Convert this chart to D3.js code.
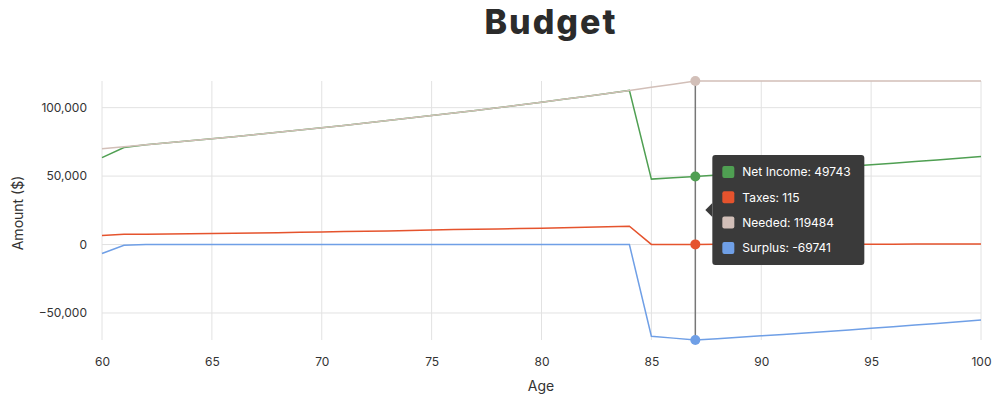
<!DOCTYPE html>
<html><head><meta charset="utf-8">
<script src="https://cdn.jsdelivr.net/npm/d3@7"></script>
<style>
html,body{margin:0;padding:0;background:#fff;}
svg{display:block;font-family:Inter,"Noto Sans",sans-serif;}
</style></head>
<body><svg id="c" width="998" height="397"></svg>
<script>
const ages = d3.range(60, 101);
const netIncome = [63500,70900,72828,74285,75770,77286,78831,80408,82016,83656,85330,87036,88777,90552,92364,94211,96095,98017,99977,101977,104016,106097,108219,110383,112591,47812,48768,49743,50738,51753,52788,53843,54920,56019,57139,58282,59448,60637,61849,63086,64348];
const taxes = [6600,7500,7600,7700,7900,8050,8250,8450,8700,8950,9200,9450,9700,9950,10300,10650,10900,11150,11400,11650,11900,12250,12600,12950,13350,90,100,115,130,145,160,175,190,205,220,240,260,400,420,440,460];
const needed = [70000,71400,72828,74285,75770,77286,78831,80408,82016,83656,85330,87036,88777,90552,92364,94211,96095,98017,99977,101977,104016,106097,108219,110383,112591,114842,117139,119484,119484,119484,119484,119484,119484,119484,119484,119484,119484,119484,119484,119484,119484];
const surplus = [-6500,-500,0,0,0,0,0,0,0,0,0,0,0,0,0,0,0,0,0,0,0,0,0,0,0,-67030,-68371,-69741,-68746,-67731,-66696,-65641,-64564,-63465,-62345,-61202,-60036,-58847,-57635,-56398,-55136];
const seriesNames = ["Net Income","Taxes","Needed","Surplus"];
const seriesColors = ["#4f9f52","#e5532d","#d2bfb8","#6f9fe6"];
const xTicks = [60,65,70,75,80,85,90,95,100];
const yTicks = [-50000,0,50000,100000];
const hoverAge = 87;

const series = [netIncome, taxes, needed, surplus].map((v,i)=>({name:seriesNames[i], color:seriesColors[i], values:v}));
const svg = d3.select("#c");
const x = d3.scaleLinear().domain([60,100]).range([102,981]);
const allVals = [].concat(netIncome,taxes,needed,surplus);
const y = d3.scaleLinear().domain([d3.min(allVals), d3.max(allVals)]).range([340,81]);

// grid
svg.append("g").selectAll("line").data(xTicks).join("line")
  .attr("x1",d=>x(d)).attr("x2",d=>x(d)).attr("y1",y.range()[1]).attr("y2",y.range()[0])
  .attr("stroke","#e2e2e2").attr("stroke-width",1);
svg.append("g").selectAll("line").data(yTicks).join("line")
  .attr("x1",x.range()[0]).attr("x2",x.range()[1]).attr("y1",d=>y(d)).attr("y2",d=>y(d))
  .attr("stroke","#e2e2e2").attr("stroke-width",1);

// axes (text only)
const xAxis = svg.append("g").attr("transform","translate(0,354)")
  .call(d3.axisBottom(x).tickValues(xTicks).tickSize(0).tickFormat(d3.format("d")));
const yAxis = svg.append("g").attr("transform","translate(90,0)")
  .call(d3.axisLeft(y).tickValues(yTicks).tickSize(0).tickFormat(d3.format(",")));
[xAxis,yAxis].forEach(a=>{a.select(".domain").remove();
  a.selectAll("text").attr("font-family","Inter, sans-serif").attr("font-size",12).attr("fill","#333");});

// lines
const line = d3.line().x((d,i)=>x(ages[i])).y(d=>y(d));
svg.append("g").selectAll("path").data(series).join("path")
  .attr("d",d=>line(d.values)).attr("fill","none").attr("stroke",d=>d.color).attr("stroke-width",1.5);

// crosshair
const hi = ages.indexOf(hoverAge);
svg.append("line").attr("x1",x(hoverAge)).attr("x2",x(hoverAge)).attr("y1",y.range()[1]).attr("y2",y.range()[0])
  .attr("stroke","#777").attr("stroke-width",1.5);
svg.append("g").selectAll("circle").data(series).join("circle")
  .attr("cx",x(hoverAge)).attr("cy",d=>y(d.values[hi])).attr("r",5).attr("fill",d=>d.color);

// titles
svg.append("text").attr("x",551).attr("y",34).attr("text-anchor","middle")
  .attr("font-family","Inter, sans-serif").attr("font-weight",800).attr("font-size",34).attr("letter-spacing",2).attr("fill","#2b2b2b").text("Budget");
svg.append("text").attr("x",541).attr("y",391).attr("text-anchor","middle")
  .attr("font-family","Inter, sans-serif").attr("font-size",14).attr("fill","#333").text("Age");
svg.append("text").attr("transform","translate(23,213) rotate(-90)").attr("text-anchor","middle")
  .attr("font-family","Inter, sans-serif").attr("font-size",14).attr("fill","#333").text("Amount ($)");

// tooltip
const tx = x(hoverAge)+17, ty = 155, tw = 152, th = 110;
const tip = svg.append("g");
tip.append("rect").attr("x",tx).attr("y",ty).attr("width",tw).attr("height",th).attr("rx",3).attr("fill","#3a3a3a");
tip.append("path").attr("d",`M${tx},${ty+th/2-7} L${tx-7},${ty+th/2} L${tx},${ty+th/2+7} Z`).attr("fill","#3a3a3a");
const rows = tip.selectAll("g").data(series).join("g")
  .attr("transform",(d,i)=>`translate(${tx+10},${ty+17+i*25.3})`);
rows.append("rect").attr("x",0).attr("y",-6).attr("width",12).attr("height",12).attr("rx",2).attr("fill",d=>d.color);
rows.append("text").attr("x",20).attr("y",0).attr("dy","0.35em").attr("font-family","Inter, sans-serif")
  .attr("font-size",12).attr("fill","#fff").text(d=>`${d.name}: ${d.values[hi]}`);
</script></body></html>
